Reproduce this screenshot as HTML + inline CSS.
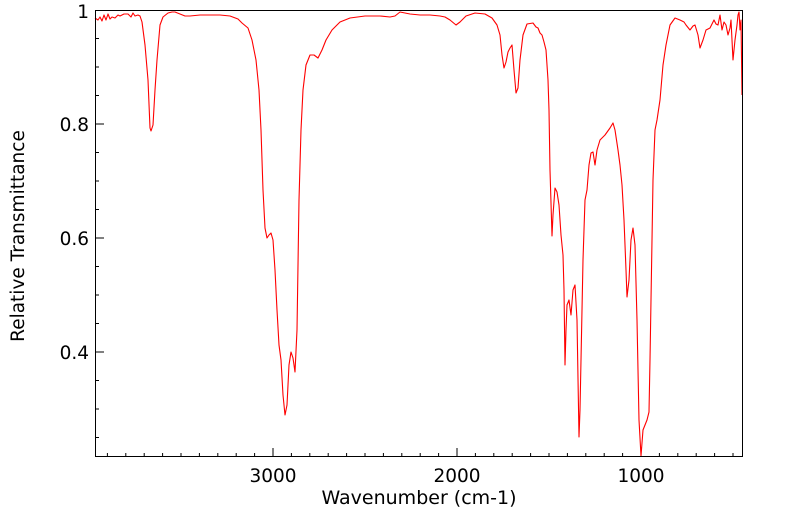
<!DOCTYPE html>
<html><head><meta charset="utf-8"><style>
html,body{margin:0;padding:0;background:#fff;}
svg{display:block;font-family:"DejaVu Sans","Liberation Sans",sans-serif;}
</style></head><body>
<svg width="799" height="516" viewBox="0 0 799 516" xmlns="http://www.w3.org/2000/svg">
<rect x="0" y="0" width="799" height="516" fill="#fff"/>
<path stroke="#000" stroke-width="1" fill="none" d="
M107.4 457V453 M125.8 457V453 M144.2 457V453 M162.6 457V453 M181 457V453 M199.4 457V453 M217.8 457V453 M236.2 457V453 M254.6 457V453 M273 457V448
M291.4 457V453 M309.8 457V453 M328.2 457V453 M346.6 457V453 M365 457V453 M383.4 457V453 M401.8 457V453 M420.2 457V453 M438.6 457V453 M457 457V448
M475.4 457V453 M493.8 457V453 M512.2 457V453 M530.6 457V453 M549 457V453 M567.4 457V453 M585.8 457V453 M604.2 457V453 M622.6 457V453 M641 457V448
M659.4 457V453 M677.8 457V453 M696.2 457V453 M714.6 457V453 M733 457V453
M95 38.5H99 M95 67H99 M95 95.5H99 M95 124H104 M95 152.5H99 M95 181H99 M95 209.5H99 M95 238H104 M95 266.5H99 M95 295H99 M95 323.5H99 M95 352H104 M95 380.5H99 M95 409H99 M95 437.5H99"/>
<polyline fill="none" stroke="#ff0000" stroke-width="1.1" stroke-linejoin="round" points="95,18 98,20 100,17 102,21 104,15 106,20 108,14 110,19 112,17 115,18 118,15 120,16 124,14 128,14 131,17 133,13 135,16 138,15 140,16 142,22 145,45 148,80 150,128 151,131 153,125 155,90 157,60 160,25 163,17 168,13 172,12 175,12 180,14 185,16 190,16 200,15 210,15 220,15 230,16 238,19 242,23 248,28 252,40 256,60 259,90 261,130 263,190 265,228 267,238 269,235 271,233 273,240 275,270 277,310 279,345 281,360 283,395 285,415 287,405 289,365 291,352 293,358 295,372 297,330 299,200 301,130 303,90 306,65 310,55 314,55 318,58 322,50 326,40 332,30 340,22 350,18 365,16 380,16 390,17 395,16 400,12 405,13 410,14 420,15 430,15 440,16 445,17 450,20 456,25 460,22 466,16 475,13 485,14 492,18 497,25 500,35 502,55 504,68 506,62 508,52 510,48 512,45 514,70 516,93 518,88 520,60 523,35 527,24 533,23 536,27 538,28 540,33 542,35 544,42 546,50 548,80 549,110 550,170 552,236 553,215 555,188 557,192 559,205 561,235 563,255 564,290 565,365 566,330 567,305 569,300 571,315 573,290 575,285 577,320 579,437 580,410 581,360 583,260 585,200 587,190 589,165 591,153 593,152 595,165 597,150 600,140 605,135 610,128 613,123 615,130 618,150 620,165 622,185 624,220 626,270 627,297 629,280 631,240 633,228 635,245 637,320 639,420 641,456 643,430 645,425 647,420 649,412 650,360 651,300 653,180 655,130 657,120 660,100 663,65 666,45 670,25 675,18 680,20 684,22 686,25 690,30 693,26 695,25 698,35 700,48 703,40 706,30 710,28 714,20 716,24 718,25 720,15 722,30 724,22 726,25 728,35 730,28 731,20 733,60 735,40 737,25 738,15 739,12 740,30 741,20 742,95"/>
<rect x="95.5" y="10.5" width="647" height="446" fill="none" stroke="#000" stroke-width="1"/>
<g font-size="18.5" fill="#000" text-anchor="end">
<text x="89" y="18">1</text>
<text x="89" y="131">0.8</text>
<text x="89" y="245">0.6</text>
<text x="89" y="359">0.4</text>
</g>
<g font-size="18.5" fill="#000" text-anchor="middle">
<text x="273" y="482">3000</text>
<text x="457" y="482">2000</text>
<text x="641" y="482">1000</text>
<text x="419" y="504" font-size="19">Wavenumber (cm-1)</text>
<text transform="translate(24,236) rotate(-90)" font-size="18.5">Relative Transmittance</text>
</g>
</svg>
</body></html>
